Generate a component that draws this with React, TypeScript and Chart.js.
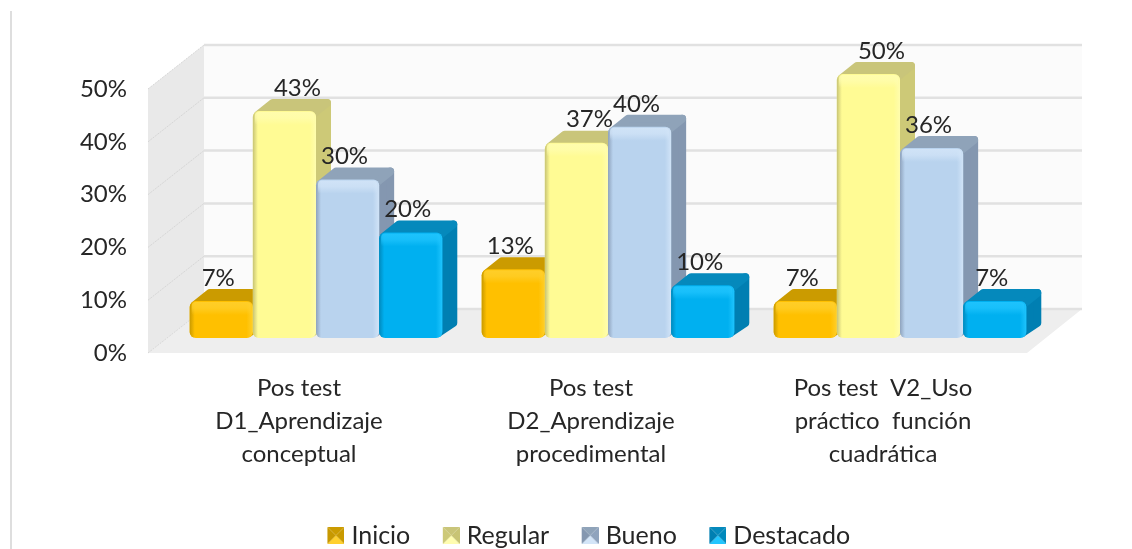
import React, { useEffect, useRef } from "react";
import { Chart, registerables } from "chart.js";

Chart.register(...registerables);

const categories: string[][] = [
  ["Pos test", "D1_Aprendizaje", "conceptual"],
  ["Pos test", "D2_Aprendizaje", "procedimental"],
  ["Pos test  V2_Uso", "práctico  función", "cuadrática"],
];
const inicio = [7, 13, 7];
const regular = [43, 37, 50];
const bueno = [30, 40, 36];
const destacado = [20, 10, 7];
const yTicks = [0, 10, 20, 30, 40, 50];

const FONT = "Lato, 'Open Sans', sans-serif";
const TEXT = "#262626";

type Style = { name: string; values: number[]; face: string; light: string; edge: string; side: string; top: string; nudge: number };
const series: Style[] = [
  { name: "Inicio", values: inicio, face: "#FFC000", light: "#FFD02E", edge: "#C99A00", side: "#C79800", top: "#CB9B00", nudge: -3 },
  { name: "Regular", values: regular, face: "#FFFB94", light: "#FFFDB0", edge: "#C8C474", side: "#CDC977", top: "#C9C57A", nudge: 13 },
  { name: "Bueno", values: bueno, face: "#B9D3EE", light: "#D3E5F8", edge: "#8FA3BD", side: "#8497B0", top: "#8FA3B9", nudge: -3 },
  { name: "Destacado", values: destacado, face: "#00B0F0", light: "#22C6FF", edge: "#0089BC", side: "#007FB2", top: "#0589BC", nudge: -3 },
];

const swatch = (s: Style) => {
  const c = document.createElement("canvas");
  c.width = 26;
  c.height = 17;
  const g = c.getContext("2d")!;
  const X = 9;
  const tri = (pts: number[][], col: string) => {
    g.fillStyle = col;
    g.beginPath();
    pts.forEach(([x, y], i) => (i ? g.lineTo(X + x, y) : g.moveTo(X + x, y)));
    g.closePath();
    g.fill();
  };
  tri([[0, 0], [17, 0], [8.5, 8.5]], s.top);
  tri([[0, 17], [17, 17], [8.5, 8.5]], s.light);
  tri([[0, 0], [0, 17], [8.5, 8.5]], s.side);
  tri([[17, 0], [17, 17], [8.5, 8.5]], s.edge);
  return c;
};

const withAlpha = (hex: string, a: number) => {
  const n = parseInt(hex.slice(1), 16);
  return `rgba(${(n >> 16) & 255},${(n >> 8) & 255},${n & 255},${a})`;
};

const scene = {
  id: "scene",
  afterLayout(chart: any) {
    chart.legend.left += 64;
    chart.legend.right += 64;
  },
  beforeDraw(chart: any) {
    const { ctx, chartArea: a, scales } = chart;
    const y = scales.y;
    const L0 = a.left - 22, L1 = a.left + 34, R0 = a.right - 19, R1 = a.right + 36;
    const back = (v: number) => y.getPixelForValue(v) - 29;
    const front = (v: number) => y.getPixelForValue(v) + 15;
    ctx.save();
    // page rule
    ctx.fillStyle = "#DEDEDE";
    ctx.fillRect(10, 11, 2, chart.height - 11);
    // back wall
    ctx.fillStyle = "#FBFBFB";
    ctx.fillRect(L1, back(50), R1 - L1, back(0) - back(50));
    // left wall
    ctx.fillStyle = "#E9E9E9";
    ctx.beginPath();
    ctx.moveTo(L0, front(0));
    ctx.lineTo(L1, back(0));
    ctx.lineTo(L1, back(50));
    ctx.lineTo(L0, front(50));
    ctx.closePath();
    ctx.fill();
    // floor
    ctx.fillStyle = "#EEEEEE";
    ctx.beginPath();
    ctx.moveTo(L0, front(0));
    ctx.lineTo(R0, front(0));
    ctx.lineTo(R1, back(0));
    ctx.lineTo(L1, back(0));
    ctx.closePath();
    ctx.fill();
    // grid from the scale's ticks
    y.ticks.forEach((t: any) => {
      ctx.strokeStyle = "#E1E1E1";
      ctx.lineWidth = 2.5;
      ctx.beginPath();
      ctx.moveTo(L1, back(t.value));
      ctx.lineTo(R1, back(t.value));
      ctx.stroke();
      ctx.strokeStyle = "#D6D6D6";
      ctx.lineWidth = 1;
      ctx.setLineDash([2, 1]);
      ctx.beginPath();
      ctx.moveTo(L0, front(t.value));
      ctx.lineTo(L1, back(t.value));
      ctx.stroke();
      ctx.setLineDash([]);
    });
    ctx.restore();
  },
  // Bars overlap left to right, so they are painted in that order with the library's own elements.
  beforeDatasetsDraw(chart: any) {
    const { ctx } = chart;
    const DX = 15, DY = 12;
    series.forEach((s, i) => {
      chart.getDatasetMeta(i).data.forEach((b: any) => {
        const l = b.x - b.width / 2, r = b.x + b.width / 2, t = b.y, bot = b.base;
        const poly = (pts: number[][], col: string) => {
          ctx.fillStyle = col;
          ctx.strokeStyle = col;
          ctx.beginPath();
          pts.forEach(([x, yy], k) => (k ? ctx.lineTo(x, yy) : ctx.moveTo(x, yy)));
          ctx.closePath();
          ctx.fill();
          ctx.stroke();
        };
        ctx.save();
        ctx.lineJoin = "round";
        ctx.lineWidth = 8;
        poly([[r - 4, bot - 5], [r + DX - 4, bot - DY - 3], [r + DX - 4, t - DY + 4], [r - 4, t + 4]], s.side);
        poly([[l + 5, t + 4], [l + DX + 5, t - DY + 4], [r + DX - 4, t - DY + 4], [r - 4, t + 4]], s.top);
        ctx.restore();
        b.draw(ctx);
        ctx.save();
        const g = ctx.createLinearGradient(l, 0, r, 0);
        g.addColorStop(0, withAlpha(s.edge, 1));
        g.addColorStop(0.08, withAlpha(s.edge, 0));
        g.addColorStop(0.9, withAlpha(s.light, 0));
        g.addColorStop(1, withAlpha(s.light, 0.9));
        ctx.fillStyle = g;
        ctx.beginPath();
        ctx.roundRect(l, t, b.width, bot - t, 6);
        ctx.fill();
        const v = ctx.createLinearGradient(0, t, 0, t + 14);
        v.addColorStop(0, withAlpha(s.light, 0.9));
        v.addColorStop(0.5, withAlpha(s.light, 0.7));
        v.addColorStop(1, withAlpha(s.light, 0));
        ctx.fillStyle = v;
        ctx.beginPath();
        ctx.roundRect(l + 2, t + 1, b.width - 4, 14, 4);
        ctx.fill();
        ctx.restore();
      });
    });
    return false;
  },
  afterDraw(chart: any) {
    const { ctx } = chart;
    ctx.save();
    ctx.font = `24px ${FONT}`;
    ctx.fillStyle = TEXT;
    ctx.textAlign = "center";
    ctx.textBaseline = "middle";
    series.forEach((s, i) => {
      chart.getDatasetMeta(i).data.forEach((b: any, j: number) => {
        ctx.fillText(`${s.values[j]}%`, b.x + s.nudge, b.y - 23);
      });
    });
    ctx.restore();
  },
};

export default function App() {
  const ref = useRef<HTMLCanvasElement>(null);
  useEffect(() => {
    document.body.style.margin = "0";
    const chart = new Chart(ref.current!, {
      type: "bar",
      data: {
        labels: categories,
        datasets: series.map((s) => ({
          label: s.name,
          data: s.values,
          borderRadius: 6,
          borderSkipped: false,
          categoryPercentage: 0.865,
          barPercentage: 1,
          backgroundColor: s.face,
        })),
      },
      options: {
        responsive: false,
        animation: false,
        layout: { padding: { left: 0, right: 86, top: 74, bottom: -9 } },
        plugins: {
          tooltip: { enabled: false },
          legend: {
            position: "bottom",
            labels: {
              usePointStyle: true,
              pointStyleWidth: 15,
              boxHeight: 15,
              font: { family: FONT, size: 25 },
              color: TEXT,
              padding: 29,
              generateLabels: () =>
                series.map((s, i) => ({
                  text: s.name,
                  datasetIndex: i,
                  pointStyle: swatch(s),
                  fontColor: TEXT,
                  lineWidth: 0,
                })),
            },
          },
        },
        scales: {
          x: {
            offset: true,
            grid: { display: false },
            border: { display: false },
            ticks: {
              maxRotation: 0,
              autoSkip: false,
              padding: 26,
              labelOffset: -17,
              color: TEXT,
              font: { family: FONT, size: 24, lineHeight: "33px" },
            },
            afterFit: (s: any) => {
              s.height = 156;
            },
          },
          y: {
            min: 0,
            max: 50,
            grid: { display: false },
            border: { display: false },
            afterBuildTicks: (s: any) => {
              s.ticks = yTicks.map((value) => ({ value }));
            },
            ticks: {
              padding: 35,
              labelOffset: 15,
              color: TEXT,
              font: { family: FONT, size: 24 },
              callback: (v: any) => `${v}%`,
            },
            afterFit: (s: any) => {
              s.width = 170;
            },
          },
        },
      } as any,
      plugins: [scene],
    });
    return () => chart.destroy();
  }, []);
  return <canvas ref={ref} width={1132} height={549} style={{ display: "block" }} />;
}
